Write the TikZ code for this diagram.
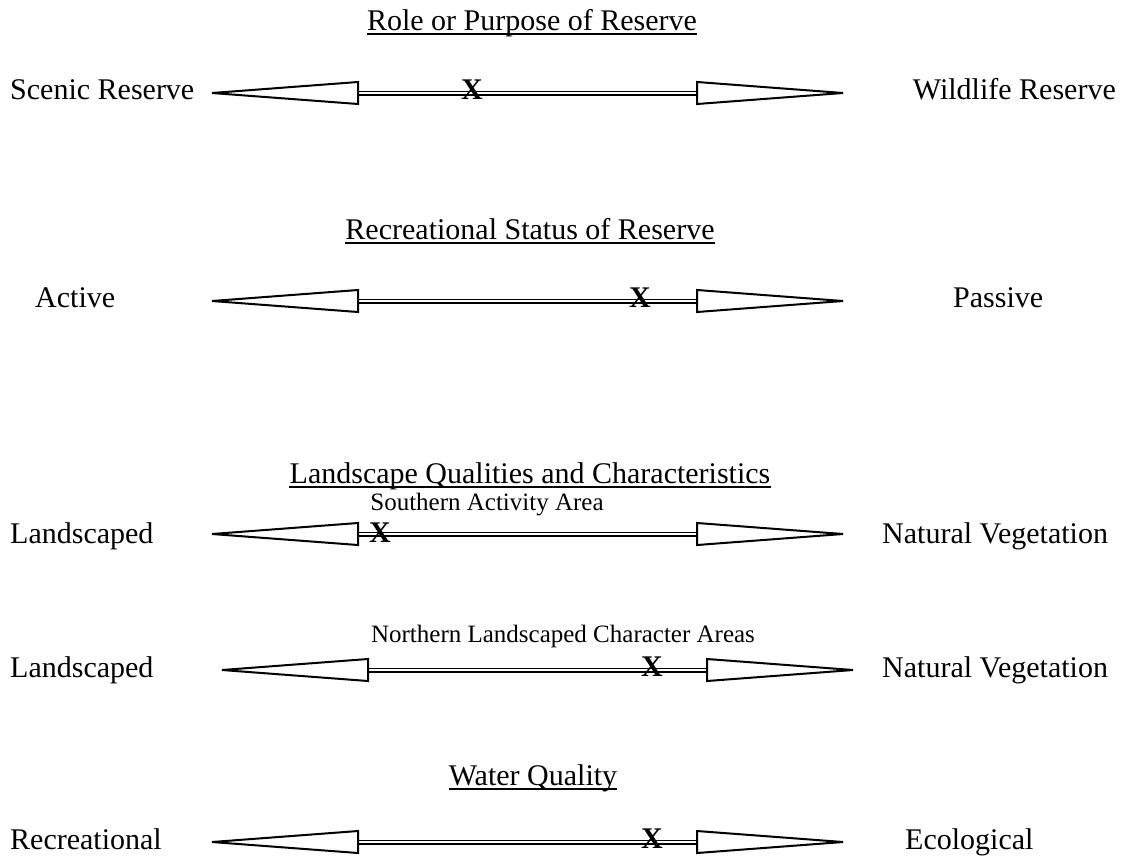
\documentclass[tikz,border=0pt]{standalone}
\usepackage{fontspec}
\setmainfont{Liberation Serif}
\begin{document}
\begin{tikzpicture}[x=1pt,y=-1pt,
  lbl/.style={inner sep=0pt,anchor=base west,font=\fontsize{30}{36}\selectfont},
  lblr/.style={inner sep=0pt,anchor=base east,font=\fontsize{30}{36}\selectfont},
  ttl/.style={inner sep=0pt,anchor=base,font=\fontsize{30}{36}\selectfont},
  sub/.style={inner sep=0pt,anchor=base,font=\fontsize{25}{30}\selectfont},
  xmark/.style={inner sep=0pt,anchor=center,font=\bfseries\fontsize{30}{34}\selectfont},
  uline/.style={line width=2pt},
  head/.style={draw=black,fill=white,line width=2pt,line join=miter},
  shaftout/.style={line width=5pt,black},
  shaftin/.style={line width=1.5pt,white},
  scalebar/.pic={
    \draw[shaftout] (146,0) -- (485,0);
    \draw[shaftin] (146,0) -- (485,0);
    \draw[head] (0,0) -- (146,-11) -- (146,11) -- cycle;
    \draw[head] (631,0) -- (485,-11) -- (485,11) -- cycle;
  }]
\useasboundingbox (0,0) rectangle (1124,855);

% titles
\node[ttl] (t1) at (532,30) {Role or Purpose of Reserve};
\node[ttl] (t2) at (530,239) {Recreational Status of Reserve};
\node[ttl] (t3) at (530,483) {Landscape Qualities and Characteristics};
\node[ttl] (t4) at (533,785) {Water Quality};
\foreach \t in {t1,t2,t3,t4}
  \draw[uline] ([yshift=-3.5pt]\t.base west) -- ([yshift=-3.5pt]\t.base east);

\node[sub] (s1) at (487,510) {Southern Activity Area};
\node[sub] (s2) at (563,642) {Northern Landscaped Character Areas};

% scales
\pic at (212,93) {scalebar};
\pic at (212,301) {scalebar};
\pic at (212,534) {scalebar};
\pic at (222,670) {scalebar};
\pic at (212,842) {scalebar};

% marks
\node[xmark] (x1) at (472,90) {X};
\node[xmark] (x2) at (640,297.5) {X};
\node[xmark] (x3) at (380,533) {X};
\node[xmark] (x4) at (652,666.5) {X};
\node[xmark] (x5) at (652,839) {X};

% side labels
\node[lbl] (l1) at (10,99) {Scenic Reserve};
\node[lblr] (r1) at (1116,99) {Wildlife Reserve};
\node[lbl] (l2) at (35,307) {Active};
\node[lbl] (r2) at (953,307) {Passive};
\node[lbl] (l3) at (10,543) {Landscaped};
\node[lbl] (r3) at (882,543) {Natural Vegetation};
\node[lbl] (l4) at (10,677) {Landscaped};
\node[lbl] (r4) at (882,677) {Natural Vegetation};
\node[lbl] (l5) at (10,849) {Recreational};
\node[lbl] (r5) at (905,849) {Ecological};
\end{tikzpicture}
\end{document}
